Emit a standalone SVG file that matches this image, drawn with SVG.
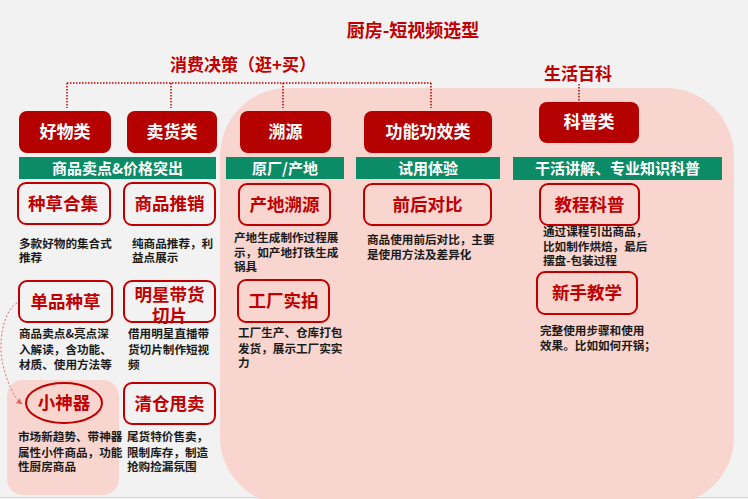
<svg xmlns="http://www.w3.org/2000/svg" width="748" height="499" viewBox="0 0 748 499">
<defs>
<style>
text{font-family:"Noto Sans CJK SC","Noto Sans",sans-serif;font-weight:bold}
.title{fill:#c00000;font-size:18px;text-anchor:middle}
.cat rect{fill:#b50000}
.cat text{fill:#fff;font-size:17px;text-anchor:middle}
.bar rect{fill:#0b8c67}
.bar text{fill:#fff;font-size:15px;text-anchor:middle}
.item rect{fill:none;stroke:#c00000;stroke-width:2}
.item ellipse{fill:none;stroke:#c00000;stroke-width:2}
.item text{fill:#c00000;font-size:17.5px;text-anchor:middle}
.desc{fill:#1a1a1a;font-size:11.6px}
.dot{stroke:#c00000;stroke-width:1.5;stroke-dasharray:1.5 1.5;fill:none}
</style>
<marker id="ah" viewBox="0 0 10 10" refX="9" refY="5" markerWidth="6" markerHeight="6" orient="auto">
<path d="M0,0 L10,5 L0,10 z" fill="#e06a6a"/>
</marker>
</defs>
<rect x="0" y="0" width="748" height="499" fill="#f2f2f2"/>
<line x1="0" y1="497.5" x2="748" y2="497.5" stroke="#d8d8d8" stroke-width="1"/>
<rect x="220" y="88" width="514" height="417" rx="68" fill="#f8d6cf"/>
<rect x="7" y="380" width="112" height="115" rx="16" fill="#f8d6cf"/>

<text class="title" x="413" y="37">厨房-短视频选型</text>
<text class="title" x="243" y="71" style="font-size:17px">消费决策（逛+买）</text>
<text class="title" x="578" y="80" style="font-size:17px">生活百科</text>

<g id="connectors">
<path class="dot" d="M67,83 H431 M67,83 V108 M171,83 V108 M283,83 V108 M431,83 V108 M579,84 V101"/>
<path d="M17,303 C2,312 -2,345 3,365 C8,385 14,398 22,404" fill="none" stroke="#e06a6a" stroke-width="1" stroke-dasharray="2 2" marker-end="url(#ah)"/>
</g>

<g id="cat-haowu" class="cat"><rect x="19" y="111" width="92" height="42" rx="8"/><text x="65" y="138">好物类</text></g>
<g id="cat-maihuo" class="cat"><rect x="127" y="111" width="90" height="42" rx="8"/><text x="172" y="138">卖货类</text></g>
<g id="cat-suyuan" class="cat"><rect x="240" y="111" width="91" height="42" rx="8"/><text x="285.5" y="138">溯源</text></g>
<g id="cat-gongneng" class="cat"><rect x="364" y="111" width="128" height="42" rx="8"/><text x="428" y="138">功能功效类</text></g>
<g id="cat-kepu" class="cat"><rect x="539" y="102" width="100" height="41" rx="8"/><text x="589" y="128">科普类</text></g>

<g id="bar-1" class="bar"><rect x="19" y="157" width="197" height="22"/><text x="117.5" y="173.5">商品卖点&amp;价格突出</text></g>
<g id="bar-2" class="bar"><rect x="226" y="157" width="118" height="22"/><text x="285" y="173.5">原厂/产地</text></g>
<g id="bar-3" class="bar"><rect x="356" y="157" width="144" height="22"/><text x="428" y="173.5">试用体验</text></g>
<g id="bar-4" class="bar"><rect x="513" y="157" width="209" height="23"/><text x="617.5" y="174">干活讲解、专业知识科普</text></g>

<g id="item-zhongcao" class="item"><rect x="18" y="183" width="92" height="41" rx="8"/><text x="63" y="210">种草合集</text></g>
<text class="desc" x="19" y="248">多款好物的集合式<tspan x="19" dy="14">推荐</tspan></text>

<g id="item-tuixiao" class="item"><rect x="124" y="183" width="91" height="42" rx="8"/><text x="169.5" y="210">商品推销</text></g>
<text class="desc" x="132" y="248">纯商品推荐，利<tspan x="132" dy="14">益点展示</tspan></text>

<g id="item-chandi" class="item"><rect x="239" y="184" width="91" height="41" rx="8"/><text x="284.5" y="211">产地溯源</text></g>
<text class="desc" x="234" y="242">产地生成制作过程展<tspan x="234" dy="15">示，如产地打铁生成</tspan><tspan x="234" dy="14">锅具</tspan></text>

<g id="item-duibi" class="item"><rect x="364" y="184" width="127" height="41" rx="8"/><text x="427.5" y="211">前后对比</text></g>
<text class="desc" x="367" y="244">商品使用前后对比，主要<tspan x="367" dy="15">是使用方法及差异化</tspan></text>

<g id="item-jiaocheng" class="item"><rect x="540" y="184" width="99" height="41" rx="8"/><text x="589.5" y="211">教程科普</text></g>
<text class="desc" x="543" y="236">通过课程引出商品，<tspan x="543" dy="15">比如制作烘焙，最后</tspan><tspan x="543" dy="14">摆盘-包装过程</tspan></text>

<g id="item-danpin" class="item"><rect x="19" y="281" width="93" height="41" rx="8"/><text x="65.5" y="308">单品种草</text></g>
<text class="desc" x="19" y="338">商品卖点&amp;亮点深<tspan x="19" dy="16">入解读，含功能、</tspan><tspan x="19" dy="15">材质、使用方法等</tspan></text>

<g id="item-mingxing" class="item"><rect x="124" y="281" width="91" height="41" rx="8"/><text x="169.5" y="301">明星带货<tspan x="169.5" dy="21">切片</tspan></text></g>
<text class="desc" x="128" y="338">借用明星直播带<tspan x="128" dy="16">货切片制作短视</tspan><tspan x="128" dy="15">频</tspan></text>

<g id="item-gongchang" class="item"><rect x="238" y="280" width="91" height="42" rx="8"/><text x="283.5" y="307">工厂实拍</text></g>
<text class="desc" x="238" y="337">工厂生产、仓库打包<tspan x="238" dy="16">发货，展示工厂实实</tspan><tspan x="238" dy="14">力</tspan></text>

<g id="item-xinshou" class="item"><rect x="537" y="272" width="100" height="42" rx="8"/><text x="587" y="299">新手教学</text></g>
<text class="desc" x="540" y="335">完整使用步骤和使用<tspan x="540" dy="15">效果。比如如何开锅；</tspan></text>

<g id="item-shenqi" class="item"><ellipse cx="64" cy="403" rx="38" ry="20"/><text x="64" y="409">小神器</text></g>
<text class="desc" x="18" y="441">市场新趋势、带神器<tspan x="18" dy="16">属性小件商品，功能</tspan><tspan x="18" dy="14">性厨房商品</tspan></text>

<g id="item-qingcang" class="item"><rect x="124" y="383" width="91" height="41" rx="8"/><text x="169.5" y="410">清仓甩卖</text></g>
<text class="desc" x="127" y="441">尾货特价售卖，<tspan x="127" dy="16">限制库存，制造</tspan><tspan x="127" dy="14">抢购捡漏氛围</tspan></text>
</svg>
